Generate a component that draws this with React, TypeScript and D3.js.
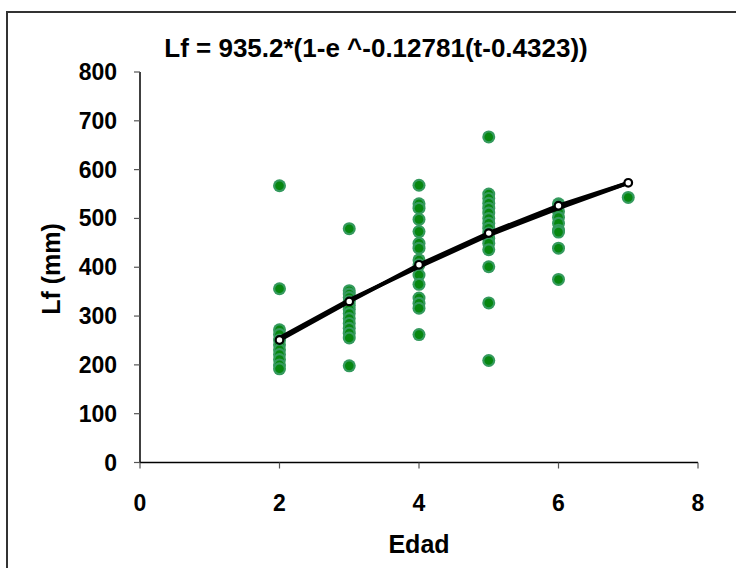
import React from "react";
import * as d3 from "d3";

const titleText = "Lf = 935.2*(1-e ^-0.12781(t-0.4323))";
const xTicks = [0, 2, 4, 6, 8];
const yTicks = [0, 100, 200, 300, 400, 500, 600, 700, 800];

// observed lengths by age
const age2 = [567, 356, 272, 262, 251, 241, 231, 221, 211, 200, 192];
const age3 = [479, 352, 345, 338, 330, 322, 314, 305, 295, 285, 275, 265, 255, 198];
const age4 = [568, 530, 521, 498, 473, 449, 439, 415, 405, 384, 365, 337, 326, 316, 262];
const age5 = [667, 550, 541, 531, 521, 511, 500, 490, 480, 470, 459, 449, 436, 401, 327, 209];
const age6 = [530, 526, 514, 502, 490, 476, 472, 439, 375];
const age7 = [543];

const meanAges = [2, 3, 4, 5, 6, 7];
const meanLf = [251, 330, 405, 470, 526, 573];
const fitLf = [255, 333, 401, 466, 521, 573];

export default function App() {
  const W = 736, H = 568;
  const x = d3.scaleLinear().domain([0, 8]).range([140, 698]);
  const y = d3.scaleLinear().domain([0, 800]).range([462.5, 72]);

  const groups: [number, number[]][] = [
    [2, age2], [3, age3], [4, age4], [5, age5], [6, age6], [7, age7],
  ];
  const pts = groups.flatMap(([a, vs]) => vs.map((v) => [a, v] as [number, number]));
  const line = d3.line<[number, number]>().x((d) => x(d[0])).y((d) => y(d[1]));
  const meanPts = meanAges.map((a, i) => [a, meanLf[i]] as [number, number]);
  const fitPts = meanAges.map((a, i) => [a, fitLf[i]] as [number, number]);

  const font = "Liberation Sans, Arial, sans-serif";

  return (
    <svg width={W} height={H} style={{ position: "absolute", left: 0, top: 0, background: "#fff" }}>
      <rect x={7} y={12} width={760} height={600} fill="#fff" stroke="#333" strokeWidth={2} />
      <text x={376} y={57} textAnchor="middle" fontFamily={font} fontWeight="bold" fontSize={26}>
        {titleText}
      </text>
      {/* y axis */}
      <line x1={x(0)} x2={x(0)} y1={y(800)} y2={y(0)} stroke="#000" strokeWidth={1.5} />
      {yTicks.map((t) => (
        <g key={"y" + t}>
          <line x1={x(0) - 6} x2={x(0)} y1={y(t)} y2={y(t)} stroke="#555" strokeWidth={1.2} />
          <text x={117} y={y(t) + 8} textAnchor="end" fontFamily={font} fontWeight="bold" fontSize={23}>
            {t}
          </text>
        </g>
      ))}
      {/* x axis */}
      <line x1={x(0)} x2={x(8)} y1={y(0)} y2={y(0)} stroke="#000" strokeWidth={1.5} />
      {xTicks.map((t) => (
        <g key={"x" + t}>
          <line x1={x(t)} x2={x(t)} y1={y(0)} y2={y(0) + 6} stroke="#555" strokeWidth={1.2} />
          <text x={x(t)} y={511} textAnchor="middle" fontFamily={font} fontWeight="bold" fontSize={23}>
            {t}
          </text>
        </g>
      ))}
      <text x={419} y={553} textAnchor="middle" fontFamily={font} fontWeight="bold" fontSize={25}>
        Edad
      </text>
      <text transform={`translate(60,269) rotate(-90)`} textAnchor="middle" fontFamily={font} fontWeight="bold" fontSize={25}>
        Lf (mm)
      </text>
      {/* data points */}
      {pts.map(([a, v], i) => (
        <g key={"p" + i}>
          <circle cx={x(a)} cy={y(v)} r={6.5} fill="#359a5e" />
          <circle cx={x(a)} cy={y(v)} r={4.3} fill="#07870f" />
        </g>
      ))}
      {/* lines */}
      <path d={line(fitPts) || ""} fill="none" stroke="#000" strokeWidth={4} />
      <path d={line(meanPts) || ""} fill="none" stroke="#000" strokeWidth={4} />
      {meanPts.map(([a, v], i) => (
        <circle key={"m" + i} cx={x(a)} cy={y(v)} r={3.8} fill="#fff" stroke="#000" strokeWidth={2.2} />
      ))}
    </svg>
  );
}
